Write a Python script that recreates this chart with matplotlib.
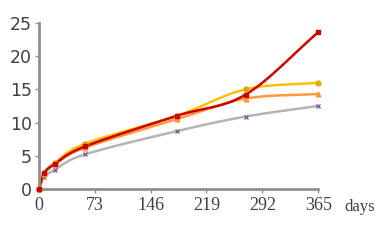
import numpy as np
import matplotlib
matplotlib.use("Agg")
import matplotlib.pyplot as plt

# data
days = [0, 7, 21, 60, 180, 270, 365]
red = [0, 2.4, 3.8, 6.4, 11.0, 14.2, 23.6]
yellow = [0, 2.3, 3.9, 6.8, 11.0, 15.0, 16.0]
orange = [0, 2.2, 3.7, 6.2, 10.5, 13.6, 14.3]
gray = [0, 1.8, 2.9, 5.2, 8.7, 10.9, 12.5]
xticks = [0, 73, 146, 219, 292, 365]
yticks = [0, 5, 10, 15, 20, 25]


def smooth(x, y, n=30):
    # catmull-rom curve through the points, like excel smoothed lines
    x = np.asarray(x, float)
    y = np.asarray(y, float)
    px = np.concatenate([[2 * x[0] - x[1]], x, [2 * x[-1] - x[-2]]])
    py = np.concatenate([[2 * y[0] - y[1]], y, [2 * y[-1] - y[-2]]])
    ox, oy = [], []
    t = np.linspace(0, 1, n)
    for i in range(1, len(px) - 2):
        for p, o in ((px, ox), (py, oy)):
            p0, p1, p2, p3 = p[i - 1], p[i], p[i + 1], p[i + 2]
            o.extend(0.5 * (2 * p1 + (-p0 + p2) * t
                            + (2 * p0 - 5 * p1 + 4 * p2 - p3) * t ** 2
                            + (-p0 + 3 * p1 - 3 * p2 + p3) * t ** 3))
    return ox, oy


fig = plt.figure(figsize=(3.89, 2.41), dpi=100)
ax = fig.add_axes([0.1, 0.216, 0.718, 0.689])

series = [
    (gray, "#b4b4b4", "x", "#8064a2", 3.5),
    (orange, "#ff9940", "^", "#ff9940", 3.5),
    (yellow, "#ffc000", "o", "#e0a800", 3.5),
    (red, "#cc0000", "s", "#cc0000", 3.5),
]
for vals, col, mk, mcol, ms in series:
    sx, sy = smooth(days, vals)
    ax.plot(sx, sy, color=col, lw=1.8, zorder=2)
    ax.plot(days, vals, ls="none", marker=mk, color=mcol, ms=ms,
            mew=1.0, zorder=3)

ax.set_xlim(0, 365)
ax.set_ylim(0, 25)
ax.set_xticks(xticks)
ax.set_yticks(yticks)
ax.set_xticklabels([str(v) for v in xticks], fontsize=13,
                   family="Liberation Serif")
ax.set_yticklabels([str(v) for v in yticks], fontsize=12.5,
                   family="DejaVu Sans")
for s in ["top", "right"]:
    ax.spines[s].set_visible(False)
for s in ["left", "bottom"]:
    ax.spines[s].set_color("#909090")
    ax.spines[s].set_linewidth(2)
ax.tick_params(colors="#909090", width=1, length=3, pad=2)
ax.tick_params(axis="x", labelcolor="#404040", pad=3)
ax.tick_params(axis="y", labelcolor="#404040")
for ln in ax.lines:
    ln.set_clip_on(False)

fig.text(0.885, 0.14, "days", fontsize=12, family="Liberation Serif",
         color="#404040", va="center")

fig.savefig("out.png", dpi=100)
